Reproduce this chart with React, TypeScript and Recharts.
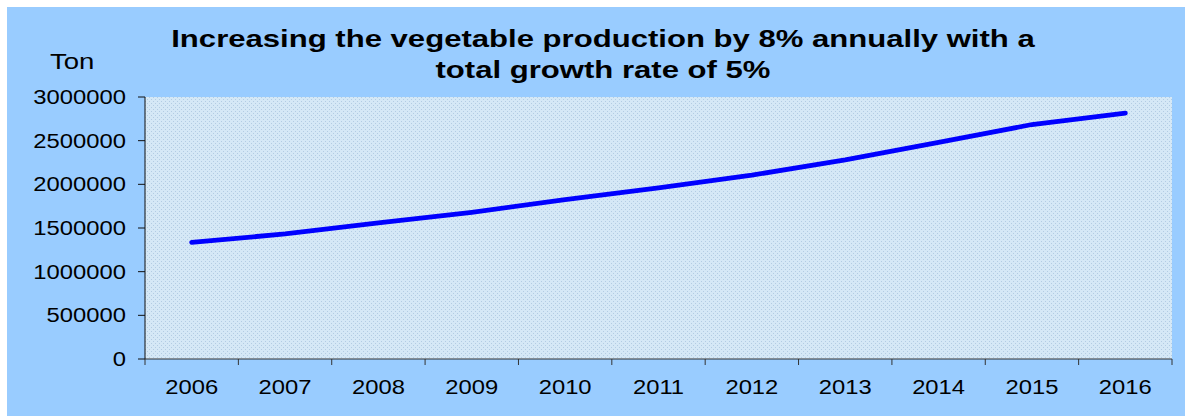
import React from "react";
import { LineChart, Line, XAxis, YAxis, CartesianGrid } from "recharts";

const years = ["2006", "2007", "2008", "2009", "2010", "2011", "2012", "2013", "2014", "2015", "2016"];
const production = [1336000, 1432000, 1558000, 1680000, 1825000, 1960000, 2105000, 2280000, 2480000, 2685000, 2815000];
const yTicks = [0, 500000, 1000000, 1500000, 2000000, 2500000, 3000000];
const titleLines = ["Increasing the vegetable production by 8% annually with a", "total growth rate of 5%"];
const unitLabel = "Ton";

const CHART_W = 1178;
const CHART_H = 409;
const MARGIN = { top: 90, right: 13, bottom: 0, left: 0 };
const Y_AXIS_W = 138;
const PLOT_W = CHART_W - MARGIN.left - MARGIN.right - Y_AXIS_W;
const FONT = '"Liberation Sans", Arial, sans-serif';

const data = years.map((year, i) => ({ pos: i + 0.5, year, production: production[i] }));
const boundaryTicks = years.map((_, i) => i).concat(years.length);

const YearTick = ({ x, y, payload }: any) => {
  const idx = payload?.value;
  if (idx >= years.length) return <g />;
  const half = PLOT_W / years.length / 2;
  return (
    <text
      transform={`translate(${x + half},${y + 29}) scale(1.22,1)`}
      textAnchor="middle"
      fill="#000"
      fontSize={19.5}
      fontFamily={FONT}
    >
      {years[idx]}
    </text>
  );
};

const ValueTick = ({ x, y, payload }: any) => (
  <text
    transform={`translate(${x},${y}) scale(1.22,1)`}
    textAnchor="end"
    dy="0.36em"
    fill="#000"
    fontSize={19.5}
    fontFamily={FONT}
  >
    {payload.value}
  </text>
);

export default function App() {
  return (
    <div
      style={{
        position: "absolute",
        left: 7,
        top: 7,
        width: CHART_W,
        height: CHART_H,
        background: "#99CCFF",
        fontFamily: FONT,
      }}
    >
      <div
        style={{
          position: "absolute",
          left: 596,
          top: 17,
          transform: "translateX(-50%) scaleX(1.295)",
          fontSize: 24,
          lineHeight: "30.6px",
          fontWeight: "bold",
          textAlign: "center",
          whiteSpace: "pre",
          color: "#000",
        }}
      >
        {titleLines.join("\n")}
      </div>
      <div
        style={{
          position: "absolute",
          left: 43,
          top: 44,
          transform: "scaleX(1.25)",
          transformOrigin: "left top",
          fontSize: 22,
          lineHeight: "22px",
          color: "#000",
        }}
      >
        {unitLabel}
      </div>
      <LineChart width={CHART_W} height={CHART_H} data={data} margin={MARGIN}>
        <defs>
          <pattern id="plotDots" width="4" height="4" patternUnits="userSpaceOnUse">
            <rect width="4" height="4" fill="#D5E8F6" />
            <rect x="0" y="0" width="1" height="1" fill="#B3CCE3" />
            <rect x="2" y="2" width="1" height="1" fill="#B3CCE3" />
          </pattern>
        </defs>
        <CartesianGrid horizontal={false} vertical={false} fill="url(#plotDots)" />
        <XAxis
          dataKey="pos"
          type="number"
          domain={[0, years.length]}
          ticks={boundaryTicks}
          interval={0}
          tick={<YearTick />}
          tickSize={6}
          tickMargin={0}
          height={57}
          stroke="#333"
        />
        <YAxis
          domain={[0, 3000000]}
          ticks={yTicks}
          interval={0}
          tick={<ValueTick />}
          tickSize={7}
          tickMargin={12}
          width={Y_AXIS_W}
          stroke="#111"
        />
        <Line
          type="linear"
          dataKey="production"
          stroke="#0000FF"
          strokeWidth={4.8}
          strokeLinecap="round"
          dot={false}
          activeDot={false}
          isAnimationActive={false}
        />
      </LineChart>
    </div>
  );
}
